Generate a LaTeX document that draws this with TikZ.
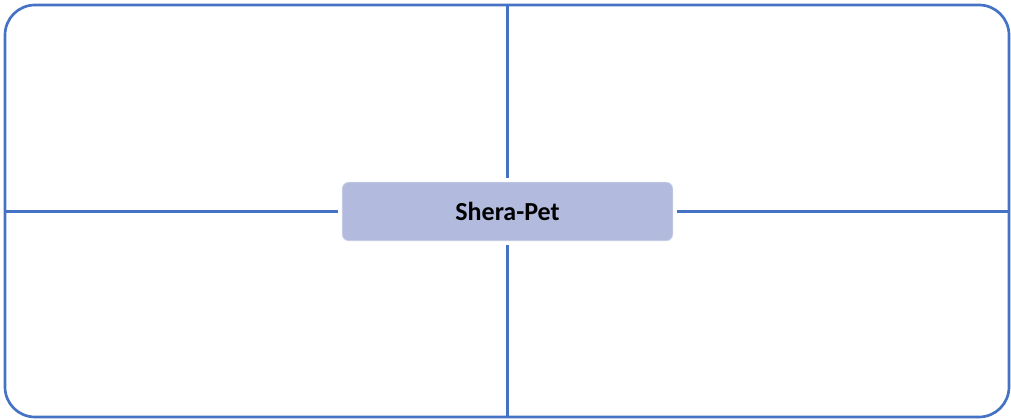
\documentclass[tikz,border=0pt]{standalone}
\usepackage{fontspec}
\setmainfont{Carlito}
\usetikzlibrary{positioning}
\definecolor{linkblue}{RGB}{68,114,196}
\definecolor{hubfill}{RGB}{178,187,222}
\tikzset{
    frame/.style = {draw=linkblue, line width=2pt, rounded corners=22.5pt, minimum width=753pt, minimum height=309pt, inner sep=0},
    hub/.style = {fill=hubfill, draw=hubfill!60!white, line width=0.5pt, rounded corners=5pt, minimum width=248pt, minimum height=44pt, outer sep=3pt, font=\fontsize{19.5}{23}\selectfont\bfseries},
    link/.style = {draw=linkblue, line width=1.9pt}
}

\begin{document}
\begin{tikzpicture}[x=0.75pt, y=-0.75pt]
        \useasboundingbox (0, 0) rectangle (1011, 420);
        % outer frame and the central box
        \node[frame] (frame) at (507, 211) {};
        \node[hub] (hub) at (507.5, 211.5) {Shera-Pet};
        % lines from the box out to the frame
        \draw[link] (hub.north) -- (hub.north |- frame.north);
        \draw[link] (hub.south) -- (hub.south |- frame.south);
        \draw[link] (hub.west) -- (hub.west -| frame.west);
        \draw[link] (hub.east) -- (hub.east -| frame.east);
\end{tikzpicture}
\end{document}
